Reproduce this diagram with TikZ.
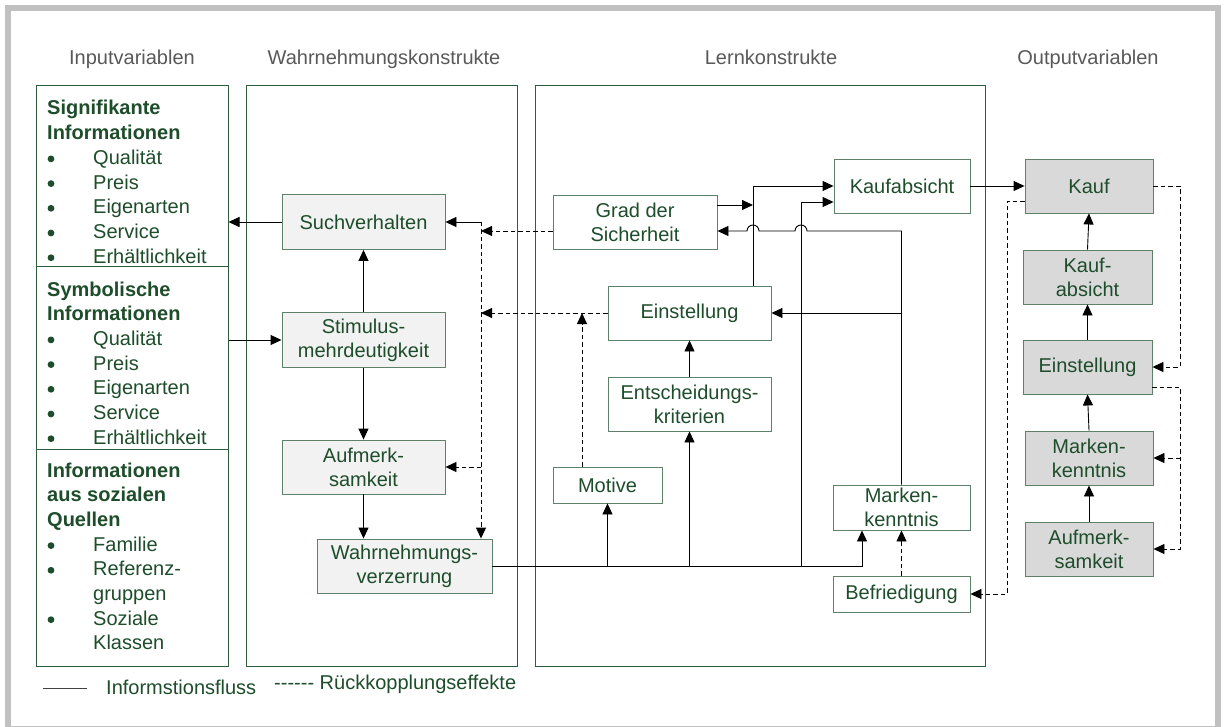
\documentclass[tikz,border=0pt]{standalone}
\usepackage{fontspec}
\setmainfont{Liberation Sans}
\usetikzlibrary{arrows.meta}
\definecolor{cTxt}{HTML}{1E4D2B}
\definecolor{cBord}{HTML}{5F8069}
\definecolor{cCont}{HTML}{2F5E3F}
\definecolor{cFrame}{HTML}{C0C0C0}
\definecolor{cTitle}{HTML}{595959}
\definecolor{cPfill}{HTML}{F2F2F2}
\definecolor{cOfill}{HTML}{D9D9D9}
\begin{document}
\begin{tikzpicture}[x=1pt,y=-1pt,
  font=\fontsize{20}{24}\selectfont,
  box/.style={draw=cBord, line width=0.9pt, text=cTxt, align=center, inner sep=0pt},
  pbox/.style={box, fill=cPfill},
  obox/.style={box, fill=cOfill},
  lbox/.style={box, fill=white},
  container/.style={draw=cCont, line width=1pt, inner sep=0pt, minimum width=#1},
  coltitle/.style={text=cTitle, anchor=base, inner sep=0pt},
  arr/.style={line width=0.9pt, -{Triangle[length=11pt,width=10pt]}},
  darr/.style={arr, dash pattern=on 4.5pt off 3pt},
  ln/.style={line width=0.9pt},
  itm/.style={anchor=base west, text=cTxt, inner sep=0pt},
  hd/.style={itm, font=\fontsize{20}{24}\selectfont\bfseries},
]
\useasboundingbox (0,0) rectangle (1228,727);
\clip (0,0) rectangle (1228,727);
\fill[white] (0,0) rectangle (1228,727);
\draw[cFrame, line width=6pt] (8,8) rectangle (1218,729);

% column titles
\node[coltitle] (tIn) at (132,65) {Inputvariablen};
\node[coltitle] (tWa) at (384,65) {Wahrnehmungskonstrukte};
\node[coltitle] (tLe) at (771,65) {Lernkonstrukte};
\node[coltitle] (tOu) at (1088,65) {Outputvariablen};

% containers
\node[container=192pt, minimum height=181pt] (sec1) at (132,176.5) {};
\node[container=192pt, minimum height=182pt] (sec2) at (132,358) {};
\node[container=192pt, minimum height=217pt] (sec3) at (132,557.5) {};
\node[container=271pt, minimum height=580pt] (wbox) at (381.5,376) {};
\node[container=450pt, minimum height=580pt] (lbox) at (760,376) {};

% input texts
\node[hd] (h1a) at (47,115) {Signifikante};
\node[hd] (h1b) at (47,139.7) {Informationen};
\foreach \t/\y [count=\i] in {Qualität/164.4, Preis/189.1, Eigenarten/213.8, Service/238.5, Erhältlichkeit/263.2}{
  \node[itm, name=s1i\i] at (93,\y) {\t};
  \fill[cTxt] (51,\y-5.5) circle[radius=3.4pt];
}
\node[hd] (h2a) at (47,296) {Symbolische};
\node[hd] (h2b) at (47,320.7) {Informationen};
\foreach \t/\y [count=\i] in {Qualität/345.4, Preis/370.1, Eigenarten/394.8, Service/419.5, Erhältlichkeit/444.2}{
  \node[itm, name=s2i\i] at (93,\y) {\t};
  \fill[cTxt] (51,\y-5.5) circle[radius=3.4pt];
}
\node[hd] (h3a) at (47,477) {Informationen};
\node[hd] (h3b) at (47,501.7) {aus sozialen};
\node[hd] (h3c) at (47,526.4) {Quellen};
\foreach \t/\y [count=\i] in {Familie/551.1, Referenz-/575.8, Soziale/625.2}{
  \node[itm, name=s3i\i] at (93,\y) {\t};
  \fill[cTxt] (51,\y-5.5) circle[radius=3.4pt];
}
\node[itm] (s3g) at (93,600.5) {gruppen};
\node[itm] (s3k) at (93,649.9) {Klassen};

% perception constructs
\node[pbox, minimum width=163pt, minimum height=55pt] (such) at (363.5,222) {Suchverhalten};
\node[pbox, minimum width=163pt, minimum height=55pt] (stim) at (363.5,340) {Stimulus-\\mehrdeutigkeit};
\node[pbox, minimum width=163pt, minimum height=54pt] (aufm) at (363.5,467) {Aufmerk-\\samkeit};
\node[pbox, minimum width=175pt, minimum height=54pt] (wverz) at (404.5,566) {Wahrnehmungs-\\verzerrung};

% learning constructs
\node[lbox, minimum width=164pt, minimum height=54pt] (grad) at (635,222) {Grad der\\Sicherheit};
\node[lbox, minimum width=136pt, minimum height=54pt] (kaufab) at (902,186) {Kaufabsicht};
\node[lbox, minimum width=163pt, minimum height=54pt] (einst) at (689.5,313) {Einstellung};
\node[lbox, minimum width=163pt, minimum height=54pt] (entsch) at (689.5,404) {Entscheidungs-\\kriterien};
\node[lbox, minimum width=109pt, minimum height=36pt] (motive) at (607.5,485) {Motive};
\node[lbox, minimum width=137pt, minimum height=45pt] (marken) at (901.5,507.5) {Marken-\\kenntnis};
\node[lbox, minimum width=137pt, minimum height=36pt] (befr) at (901.5,594) {Befriedigung};

% output variables
\node[obox, minimum width=128pt, minimum height=54pt] (okauf) at (1089,186) {Kauf};
\node[obox, minimum width=129pt, minimum height=54pt] (okaufab) at (1087.5,277) {Kauf-\\absicht};
\node[obox, minimum width=129pt, minimum height=54pt] (oeinst) at (1087.5,367) {Einstellung};
\node[obox, minimum width=128pt, minimum height=54pt] (omarken) at (1089,458) {Marken-\\kenntnis};
\node[obox, minimum width=128pt, minimum height=54pt] (oaufm) at (1089,549) {Aufmerk-\\samkeit};

% junction coordinates
\coordinate (vT) at (481,222);
\coordinate (eU) at (753,286);
\coordinate (fX) at (801,566);
\coordinate (oLx) at (1007,594);
\coordinate (oRx) at (1180,186);

% perception connectors
\draw[arr] (such.west) -- (such.west -| sec1.east);
\draw[arr] (stim.west -| sec2.east) -- (stim.west);
\draw[arr] (stim.north) -- (such.south);
\draw[arr] (stim.south) -- (aufm.north);
\draw[arr] (aufm.south) -- (aufm.south |- wverz.north);
\draw[arr] (vT) -- (such.east);
\draw[darr] (vT) -- (vT |- wverz.north);
\draw[darr] ([yshift=-9pt]grad.west) -- ([yshift=-9pt]grad.west -| vT);
\draw[darr] (einst.west) -- (einst.west -| vT);
\draw[darr] (aufm.east -| vT) -- (aufm.east);
\draw[darr] ([xshift=-25.5pt]motive.north) -- ([xshift=-25.5pt]motive.north |- einst.west);

% information flow
\draw[arr] (wverz.east) -| ([xshift=-39.5pt]marken.south);
\draw[arr] (motive.south |- wverz.east) -- (motive.south);
\draw[arr] (entsch.south |- wverz.east) -- (entsch.south);
\draw[arr] (fX) |- ([yshift=-16pt]kaufab.west);
\draw[arr] (eU) |- (kaufab.west);
\draw[arr] ([yshift=17pt]grad.east) -- ([yshift=17pt]grad.east -| eU);
\draw[arr] (entsch.north) -- (einst.south);
\coordinate (h1) at ([yshift=-9pt]grad.east -| fX);
\coordinate (h2) at ([yshift=-9pt]grad.east -| eU);
\draw[arr] (marken.north) |- ([xshift=6pt]h1) arc[start angle=0,end angle=180,radius=6pt]
  -- ([xshift=6pt]h2) arc[start angle=0,end angle=180,radius=6pt] -- ([yshift=-9pt]grad.east);
\draw[arr] (marken.north |- einst.east) -- (einst.east);
\draw[darr] (befr.north) -- (marken.south);
\draw[arr] (kaufab.east) -- (okauf.west);

% output connectors
\draw[arr] (oaufm.north) -- (omarken.south);
\draw[arr] (omarken.north) -- (oeinst.south);
\draw[arr] (oeinst.north) -- (okaufab.south);
\draw[arr] (okaufab.north) -- (okauf.south);
\draw[darr] ([yshift=-15pt]okauf.west) -| (oLx) -- (befr.east);
\draw[darr] (okauf.east) -- (oRx) |- (oeinst.east);
\draw[darr] ([yshift=-20pt]oeinst.east) -| (oRx |- oaufm.east) -- (oaufm.east);
\draw[darr] (oRx |- omarken.east) -- (omarken.east);

% legend
\coordinate (lg1) at (43,688);
\coordinate (lg2) at (87,688);
\draw[line width=1pt, black!75] (lg1) -- (lg2);
\node[itm] (lgA) at (106,694) {Informstionsfluss};
\node[itm] (lgB) at (274,689) {-{}-{}-{}-{}-{}- Rückkopplungseffekte};
\end{tikzpicture}
\end{document}
